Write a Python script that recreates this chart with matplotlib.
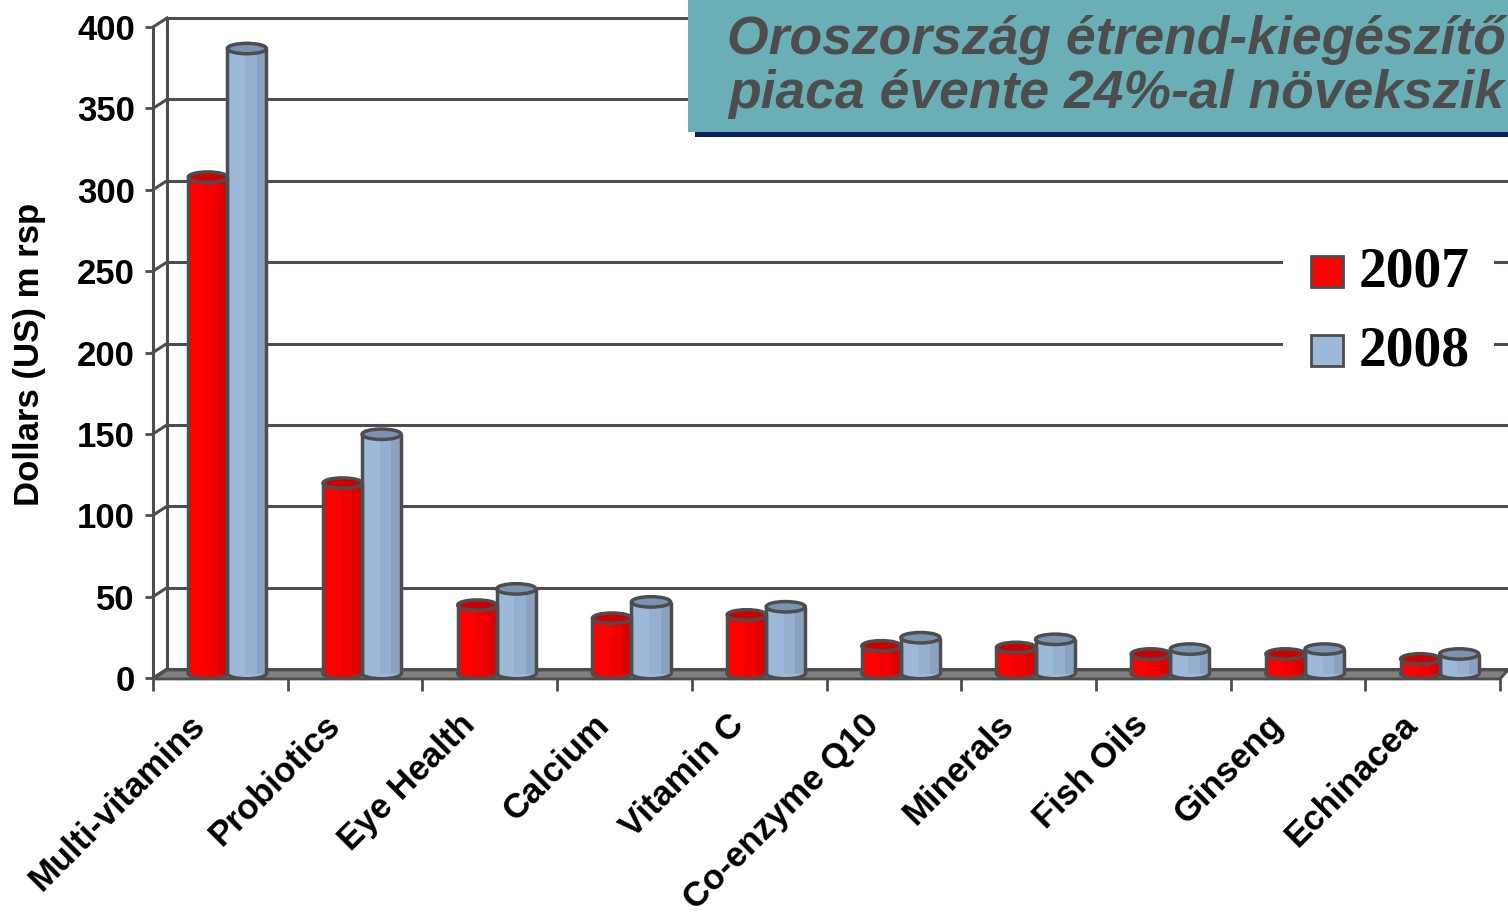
import matplotlib.pyplot as plt
import numpy as np
from matplotlib.patches import Rectangle, Ellipse, Polygon
from matplotlib.transforms import ScaledTranslation

plt.rcParams['font.family'] = ['Liberation Sans', 'DejaVu Sans']

# data (US$ m rsp)
categories = ['Multi-vitamins', 'Probiotics', 'Eye Health', 'Calcium', 'Vitamin C',
              'Co-enzyme Q10', 'Minerals', 'Fish Oils', 'Ginseng', 'Echinacea']
series_names = ['2007', '2008']
values_2007 = [305, 117, 42, 34, 36, 17, 16, 12, 12, 9]
values_2008 = [384, 147, 52, 44, 41, 22, 21, 15, 15, 12]
y_ticks = [0, 50, 100, 150, 200, 250, 300, 350, 400]

W, H = 1508, 914
EDGE = '#4d4d4d'
styles = [
    {'light': '#ff0000', 'mid': '#f00000', 'dark': '#de0000', 'top': '#cc0000'},
    {'light': '#9db9da', 'mid': '#94afd0', 'dark': '#8aa1c0', 'top': '#7a93b2'},
]

def fx(px):
    return px / W

def fy(py):
    return 1 - py / H

fig = plt.figure(figsize=(W / 100, H / 100), dpi=100)
ax = fig.add_axes([fx(153), fy(678), (1500 - 153) / W, (678 - 27) / H])
n = len(categories)
ax.set_xlim(-0.5, n - 0.5)
ax.set_ylim(0, 400)

# depth of the fake 3d box (data units)
ddx = 14 / 134.7
ddy = 9 / 1.6275
xr = n - 0.5 + 8 / 134.7

for s in ['top', 'right', 'bottom']:
    ax.spines[s].set_visible(False)
ax.spines['left'].set_color(EDGE)
ax.spines['left'].set_linewidth(2.2)

ax.set_yticks(y_ticks)
ax.set_yticklabels([str(t) for t in y_ticks], fontsize=25, fontweight='bold')
ax.tick_params(axis='y', direction='out', length=6, width=2, color=EDGE, pad=7)
ax.set_xticks(np.arange(-0.5, n, 1.0))
ax.set_xticklabels([])
ax.tick_params(axis='x', direction='out', length=9, width=2, color=EDGE)
ax.xaxis.set_ticks_position('bottom')

# back wall, left wall and gridlines
for v in y_ticks:
    ax.plot([-0.5 + ddx, xr], [v + ddy, v + ddy], color=EDGE, lw=2.2, clip_on=False, zorder=1)
    ax.plot([-0.5, -0.5 + ddx], [v, v + ddy], color=EDGE, lw=2.2, clip_on=False, zorder=1)
ax.plot([-0.5 + ddx, -0.5 + ddx], [ddy, 400 + ddy], color=EDGE, lw=2.2, clip_on=False, zorder=1)

# floor
floor = Polygon([(-0.5, -0.6), (n - 0.5, -0.6), (xr, ddy - 0.6), (-0.5 + ddx, ddy - 0.6)],
                closed=True, facecolor='#808080', edgecolor=EDGE, lw=2, clip_on=False, zorder=2)
ax.add_patch(floor)

w = 0.29
eh = 6.4

def cylinder(xc, v, st):
    y0 = ddy / 2
    y1 = v + ddy / 2
    ax.add_patch(Ellipse((xc, y0), w, eh, facecolor=st['light'], edgecolor=EDGE, lw=2.5, zorder=3))
    x0 = xc - w / 2
    ax.add_patch(Rectangle((x0, y0), w * 0.45, y1 - y0, facecolor=st['light'], lw=0, zorder=4))
    ax.add_patch(Rectangle((x0 + w * 0.45, y0), w * 0.3, y1 - y0, facecolor=st['mid'], lw=0, zorder=4))
    ax.add_patch(Rectangle((x0 + w * 0.75, y0), w * 0.25, y1 - y0, facecolor=st['dark'], lw=0, zorder=4))
    ax.plot([x0, x0], [y0, y1], color=EDGE, lw=2.5, zorder=5, solid_capstyle='butt')
    ax.plot([x0 + w, x0 + w], [y0, y1], color=EDGE, lw=2.5, zorder=5, solid_capstyle='butt')
    ax.add_patch(Ellipse((xc, y1), w, eh, facecolor=st['top'], edgecolor=EDGE, lw=2.5, zorder=6))

for i in range(n):
    cylinder(i + ddx / 2 - w / 2, values_2007[i], styles[0])
    cylinder(i + ddx / 2 + w / 2, values_2008[i], styles[1])

# category labels
off = ax.transData + ScaledTranslation(-0.20, -0.42, fig.dpi_scale_trans)
for i, c in enumerate(categories):
    ax.text(i, 0, c, transform=off, rotation=45, rotation_mode='anchor',
            ha='right', va='center', fontsize=25, fontweight='bold', color='black')

fig.text(fx(30), fy(354), 'Dollars (US) m rsp', rotation=90, ha='center', va='center',
         fontsize=25, fontweight='bold')

# legend
fig.patches.append(Rectangle((fx(1283), fy(385)), (1494 - 1283) / W, 145 / H,
                             transform=fig.transFigure, facecolor='white', edgecolor='none', zorder=2))
for k, (name, st) in enumerate(zip(series_names, styles)):
    top = 256 + 79 * k
    fig.patches.append(Rectangle((fx(1311), fy(top + 31)), 32 / W, 31 / H, transform=fig.transFigure,
                                 facecolor=st['light'], edgecolor=EDGE, lw=2, zorder=3))
    fig.text(fx(1359), fy(top + 17), name, ha='left', va='center', fontsize=40,
             fontweight='bold', family=['Liberation Serif', 'DejaVu Serif'], zorder=3)

# title box
fig.patches.append(Rectangle((fx(688), fy(132)), (W - 688) / W, 132 / H, transform=fig.transFigure,
                             facecolor='#6aaeb6', edgecolor='none', zorder=2))
fig.patches.append(Rectangle((fx(695), fy(137)), (W - 695) / W, 5 / H, transform=fig.transFigure,
                             facecolor='#0c1f5b', edgecolor='none', zorder=2))
fig.text(fx(1116), fy(54), 'Oroszország étrend-kiegészítő', ha='center', va='baseline',
         fontsize=38.5, fontweight='bold', fontstyle='italic', color='#4d4d4d', zorder=3)
fig.text(fx(1116), fy(108), 'piaca évente 24%-al növekszik', ha='center', va='baseline',
         fontsize=38.5, fontweight='bold', fontstyle='italic', color='#4d4d4d', zorder=3)

fig.savefig('out.png', dpi=100)
